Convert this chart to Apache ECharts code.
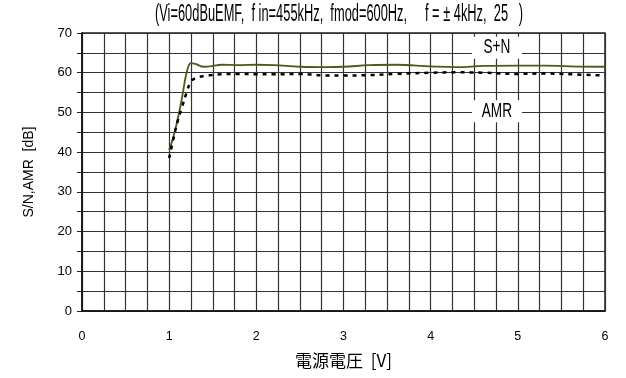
<!DOCTYPE html>
<html>
<head>
<meta charset="utf-8">
<script src="https://cdn.jsdelivr.net/npm/echarts@6/dist/echarts.min.js"></script>
<style>
  html, body { margin: 0; padding: 0; background: #fff; }
  #chart { width: 626px; height: 378px; }
</style>
</head>
<body>
<div id="chart"></div>
<script>
// Supply voltage sweep [V]
const voltage = [1.0, 1.05, 1.1, 1.15, 1.2, 1.25, 1.3, 1.4, 1.5, 1.6, 1.8, 2.0, 2.2, 2.5, 2.8, 3.0, 3.3, 3.6, 4.0, 4.3, 4.6, 5.0, 5.3, 5.6, 6.0];
// S+N [dB]
const snValues = [40.5, 44.0, 48.5, 54.0, 60.0, 62.4, 62.2, 61.5, 61.7, 62.0, 61.9, 62.0, 61.9, 61.5, 61.4, 61.5, 61.9, 62.0, 61.6, 61.4, 61.7, 61.8, 61.8, 61.6, 61.5];
// AMR [dB]
const amrValues = [38.5, 43.5, 48.0, 51.5, 55.0, 57.8, 58.6, 59.2, 59.4, 59.6, 59.7, 59.6, 59.6, 59.7, 59.3, 59.3, 59.4, 59.7, 60.0, 60.1, 60.0, 59.7, 59.8, 59.6, 59.3];

const xTickLabels = ['0', '1', '2', '3', '4', '5', '6'];
const yTickLabels = ['0', '10', '20', '30', '40', '50', '60', '70'];

const titleText = '(Vi=60dBuEMF,  f in=455kHz,  fmod=600Hz,     f = \u00b1 4kHz,  25   )';
const xName = '電源電圧  [V]';
const yName = 'S/N,AMR  [dB]';
const seriesNames = ['S+N', 'AMR'];
// label anchor positions in data units (V, dB)
const labelAt = [[4.76, 66.3], [4.76, 50.3]];

const sans = '"Liberation Sans", Arial, sans-serif';

// measure a string so it can be squeezed into a narrow face
const ctx = document.createElement('canvas').getContext('2d');
function textWidth(str, font) { ctx.font = font; return ctx.measureText(str).width; }

const chart = echarts.init(document.getElementById('chart'), null, { renderer: 'canvas' });

const pair = (xs, ys) => xs.map((x, i) => [x, ys[i]]);

chart.setOption({
  backgroundColor: '#ffffff',
  animation: false,
  grid: { left: 82, right: 21, top: 33, bottom: 67, show: true, borderColor: '#222', borderWidth: 1.5 },
  xAxis: {
    type: 'value', min: 0, max: 6, interval: 0.25,
    name: xName, nameLocation: 'middle', nameGap: 41,
    nameTextStyle: { fontFamily: '"Noto Sans CJK JP", sans-serif', fontSize: 17, color: '#000' },
    axisLine: { show: true, lineStyle: { color: '#111', width: 1.5 } },
    axisTick: { show: false },
    axisLabel: {
      margin: 19, fontFamily: sans, fontSize: 12.5, color: '#000',
      formatter: v => (Math.abs(v - Math.round(v)) < 1e-9 ? xTickLabels[Math.round(v)] : '')
    },
    splitLine: { show: true, lineStyle: { color: '#333', width: 1.2 } }
  },
  yAxis: {
    type: 'value', min: 0, max: 70, interval: 5,
    name: yName, nameLocation: 'middle', nameGap: 46, nameRotate: 90,
    nameTextStyle: { fontFamily: sans, fontSize: 14, color: '#000' },
    axisLine: { show: true, lineStyle: { color: '#111', width: 1.5 } },
    axisTick: { show: true, length: 5, inside: false, lineStyle: { color: '#222' } },
    axisLabel: {
      margin: 10, fontFamily: sans, fontSize: 13, color: '#000',
      formatter: v => (v % 10 === 0 ? yTickLabels[v / 10] : '')
    },
    splitLine: { show: true, lineStyle: { color: '#333', width: 1.2 } }
  },
  series: [
    {
      name: seriesNames[0], type: 'line', smooth: 0.4, symbol: 'none',
      data: pair(voltage, snValues),
      lineStyle: { color: '#55551e', width: 1.8 }, z: 3
    },
    {
      name: seriesNames[1], type: 'line', smooth: 0.4, symbol: 'none',
      data: pair(voltage, amrValues),
      lineStyle: { color: '#000', width: 2.5, type: [4, 5] }, z: 3
    }
  ]
});

// condensed title and series name tags on white boxes
function placeText() {
  const titleFont = '23px ' + sans;
  const titleScale = 368 / textWidth(titleText, titleFont);
  const tagFont = '20px ' + sans;
  const tags = labelAt.map((p, i) => {
    const px = chart.convertToPixel({ gridIndex: 0 }, p);
    return {
      type: 'group', x: px[0], y: px[1], z: 10,
      children: [
        { type: 'rect', shape: { x: -25, y: -11, width: 50, height: 22 }, style: { fill: '#fff' } },
        { type: 'text', scaleX: 0.68,
          style: { text: seriesNames[i], align: 'center', verticalAlign: 'middle', font: tagFont, fill: '#000' } }
      ]
    };
  });
  chart.setOption({
    graphic: [
      { type: 'text', x: 155, y: 15, scaleX: titleScale, z: 10,
        style: { text: titleText, verticalAlign: 'middle', font: titleFont, fill: '#000' } }
    ].concat(tags)
  });
}
placeText();
</script>
</body>
</html>
